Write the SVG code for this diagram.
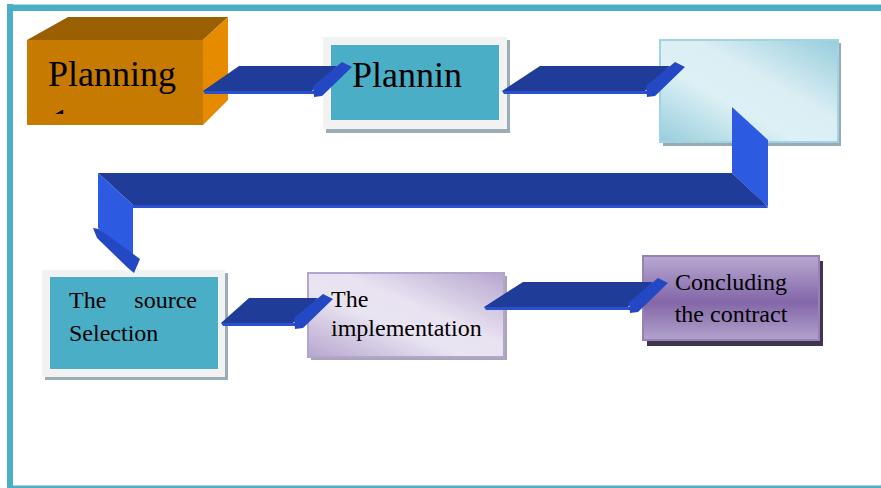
<svg xmlns="http://www.w3.org/2000/svg" width="881" height="488" viewBox="0 0 881 488">
<style>
.t{font-family:"Liberation Serif","Times New Roman",serif;fill:#000}
.big{font-size:36px}
.med{font-size:24px}
.body{fill:#1f3c98}
.strip{fill:#2a50d0}
.head{fill:#2448c4}
.face{fill:#2c5ae0}
.frame{fill:#4aaec6}
</style>
<defs>
<linearGradient id="g3" x1="1" y1="0" x2="0" y2="1">
<stop offset="0" stop-color="#96cddc"/>
<stop offset="0.4" stop-color="#dbeef4"/>
<stop offset="0.62" stop-color="#dcf0f5"/>
<stop offset="1" stop-color="#96cddc"/>
</linearGradient>
<linearGradient id="g5" x1="1" y1="0" x2="0" y2="1">
<stop offset="0" stop-color="#b6a6ce"/>
<stop offset="0.42" stop-color="#e8e2f1"/>
<stop offset="0.6" stop-color="#e9e4f2"/>
<stop offset="1" stop-color="#b6a6ce"/>
</linearGradient>
<linearGradient id="g6" x1="0" y1="0" x2="0" y2="1">
<stop offset="0" stop-color="#b8a9d1"/>
<stop offset="0.55" stop-color="#8366a8"/>
<stop offset="1" stop-color="#b3a3cc"/>
</linearGradient>
<clipPath id="c1"><rect x="27" y="40" width="176" height="74"/></clipPath>
</defs>
<g id="frame">
<rect class="frame" x="7" y="4" width="874" height="7"/>
<rect x="7" y="4" width="874" height="1" fill="#a8dbe6"/>
<rect class="frame" x="7" y="4" width="6" height="484"/>
<rect class="frame" x="7" y="485.5" width="874" height="2.5"/>
</g>
<g id="node-planning">
<polygon points="27,40 68,17 228,17 203,40" fill="#9a5f00"/>
<polygon points="203,40 228,17 228,100 203,125" fill="#e68a00"/>
<rect x="27" y="40" width="176" height="85" fill="#c67a00"/>
<text class="t big" x="48" y="86">Planning</text>
<text class="t big" x="52" y="134" clip-path="url(#c1)">1</text>
</g>
<g id="node-plannin">
<rect x="326" y="40" width="184" height="93" fill="#9aacb4"/>
<rect x="323" y="37" width="184" height="92" fill="#f2f2f2"/>
<rect x="331" y="45" width="168" height="75" fill="#4aaec6"/>
<text class="t big" x="352" y="87">Plannin</text>
</g>
<g id="node-blank">
<rect x="663" y="43" width="178" height="103" fill="#98aab2"/>
<rect x="660" y="40" width="178" height="102" fill="url(#g3)" stroke="#a0d4e2" stroke-width="2"/>
</g>
<g id="node-source">
<rect x="45" y="273" width="183" height="107" fill="#9aacb4"/>
<rect x="42" y="270" width="183" height="107" fill="#f2f2f2"/>
<rect x="50" y="277" width="168" height="92" fill="#4aaec6"/>
<text class="t med" x="69" y="308">The</text>
<text class="t med" x="197" y="308" text-anchor="end">source</text>
<text class="t med" x="69" y="341">Selection</text>
</g>
<g id="node-implementation">
<rect x="311" y="276" width="196" height="84" fill="#aaa4b4"/>
<rect x="308" y="273" width="196" height="84" fill="url(#g5)" stroke="#b3a5cc" stroke-width="2"/>
<text class="t med" x="331" y="307">The</text>
<text class="t med" x="331" y="336">implementation</text>
</g>
<g id="node-contract">
<rect x="647" y="261" width="176" height="85" fill="#3f3551"/>
<rect x="643" y="256" width="176" height="84" fill="url(#g6)" stroke="#9782b8" stroke-width="2"/>
<text class="t med" x="731" y="290" text-anchor="middle">Concluding</text>
<text class="t med" x="731" y="322" text-anchor="middle">the contract</text>
</g>
<g id="connectors">
<g id="a1">
<polygon class="body" points="203,91 239,66 337,66 312,91"/>
<polygon class="strip" points="203,91 314,91 314,94 205,94"/>
<polygon class="head" points="313,86 342,62 352,67 322,96 314,97"/>
</g>
<g id="a2">
<polygon class="body" points="502,91 540,66 670,66 645,91"/>
<polygon class="strip" points="502,91 647,91 647,94 504,94"/>
<polygon class="head" points="646,86 675,62 685,67 655,96 647,97"/>
</g>
<g id="a3">
<polygon class="face" points="732,107 768,140 768,207 732,173"/>
<polygon class="body" points="98,173 732,173 766,205 133,205"/>
<polygon class="strip" points="133,205 766,205 768,208 133,208"/>
<polygon class="face" points="98,173 133,205 133,260 98,228"/>
<polygon class="head" points="93,228 99,229 140,259 134,273 128,268 97,238"/>
</g>
<g id="a4">
<polygon class="body" points="221,323 249,298 318,298 293,323"/>
<polygon class="strip" points="221,323 295,323 295,326 223,326"/>
<polygon class="head" points="294,318 323,294 333,299 303,328 295,329"/>
</g>
<g id="a5">
<polygon class="body" points="484,307 523,282 653,282 628,307"/>
<polygon class="strip" points="484,307 630,307 630,310 486,310"/>
<polygon class="head" points="629,302 658,278 668,283 638,312 630,313"/>
</g>
</g>
</svg>
